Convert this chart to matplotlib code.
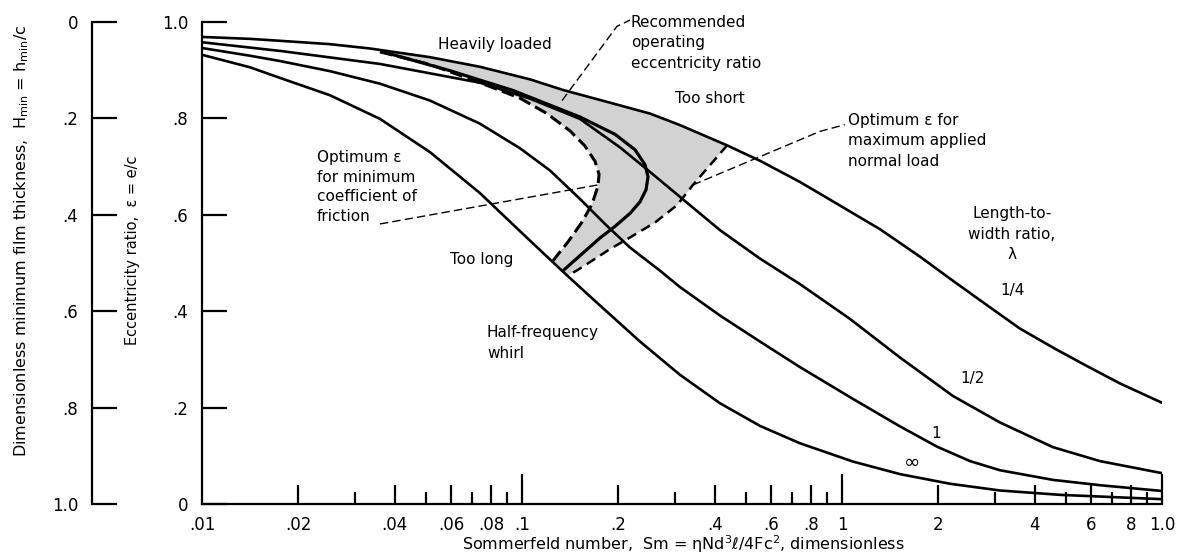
import numpy as np
import matplotlib
matplotlib.use('Agg')
import matplotlib.pyplot as plt

plt.rcParams['font.family'] = ['DejaVu Sans']
plt.rcParams['mathtext.fontset'] = 'dejavusans'

# ---- data (Sommerfeld number S, eccentricity ratio eps) ----
S_quarter = [0.01, 0.01413, 0.01753, 0.02512, 0.0335, 0.05158, 0.07396, 0.1059, 0.1343, 0.1923,
             0.2512, 0.3119, 0.4375, 0.5546, 0.7396, 0.9638, 1.315, 1.754, 2.223, 2.901,
             3.597, 4.634, 5.834, 7.396, 10]
e_quarter = [0.969, 0.965, 0.961, 0.954, 0.945, 0.927, 0.907, 0.881, 0.859, 0.831,
             0.810, 0.786, 0.744, 0.712, 0.668, 0.623, 0.570, 0.513, 0.463, 0.408,
             0.364, 0.322, 0.286, 0.250, 0.210]

S_half = [0.01, 0.01754, 0.03597, 0.07396, 0.1059, 0.1517, 0.2023, 0.246, 0.3119, 0.4159,
          0.5546, 0.7396, 1.059, 1.517, 2.223, 3.119, 4.56, 6.397, 10]
e_half = [0.958, 0.940, 0.913, 0.874, 0.841, 0.799, 0.740, 0.694, 0.637, 0.568,
          0.509, 0.456, 0.384, 0.304, 0.224, 0.169, 0.118, 0.089, 0.064]

S_one = [0.01, 0.01413, 0.01753, 0.02512, 0.03599, 0.05158, 0.07391, 0.09857, 0.1223, 0.1517,
         0.1817, 0.2176, 0.27, 0.3117, 0.4157, 0.5543, 0.7391, 1.0823, 1.5177, 1.9815,
         2.5119, 3.1174, 4.5647, 6.4027, 10]
e_one = [0.946, 0.930, 0.919, 0.898, 0.872, 0.837, 0.789, 0.738, 0.692, 0.633,
         0.581, 0.532, 0.484, 0.450, 0.391, 0.337, 0.284, 0.218, 0.161, 0.119,
         0.089, 0.070, 0.050, 0.039, 0.027]

S_inf = [0.01, 0.01413, 0.01753, 0.02512, 0.03599, 0.05158, 0.07391, 0.09857, 0.1343, 0.1667,
         0.2338, 0.3117, 0.4157, 0.5543, 0.7391, 1.0823, 1.5177, 2.1757, 3.1174, 4.8, 10]
e_inf = [0.932, 0.906, 0.884, 0.848, 0.799, 0.730, 0.645, 0.566, 0.482, 0.425,
         0.337, 0.268, 0.209, 0.162, 0.126, 0.088, 0.062, 0.042, 0.028, 0.019, 0.010]

# optimum eps for minimum coefficient of friction
S_minfric = [0.03599, 0.05158, 0.07391, 0.09857, 0.1197, 0.1413, 0.1572, 0.1691, 0.1741, 0.1728,
             0.1655, 0.154, 0.1393, 0.1251]
e_minfric = [0.938, 0.912, 0.874, 0.842, 0.810, 0.774, 0.743, 0.711, 0.684, 0.660,
             0.622, 0.585, 0.544, 0.505]

# recommended operating eccentricity ratio
S_recom = [0.03868, 0.05957, 0.09373, 0.1517, 0.1953, 0.2255, 0.2423, 0.2476, 0.2441, 0.2338,
           0.2176, 0.1953, 0.1753, 0.154, 0.1343]
e_recom = [0.934, 0.899, 0.858, 0.803, 0.767, 0.735, 0.704, 0.679, 0.652, 0.627,
           0.603, 0.576, 0.552, 0.519, 0.484]

# optimum eps for maximum applied normal load
S_maxload = [0.4375, 0.3868, 0.3421, 0.3052, 0.2604, 0.2176, 0.1884, 0.1632, 0.1496, 0.1383]
e_maxload = [0.744, 0.703, 0.662, 0.620, 0.584, 0.553, 0.529, 0.502, 0.486, 0.473]

xtick_vals = [0.01, 0.02, 0.04, 0.06, 0.08, 0.1, 0.2, 0.4, 0.6, 0.8, 1, 2, 4, 6, 8, 10]
xtick_labels = ['.01', '.02', '.04', '.06', '.08', '.1', '.2', '.4', '.6', '.8', '1',
                '2', '4', '6', '8', '1.0']
decade_ticks = [0.1, 1, 10]
even_ticks = [0.02, 0.04, 0.06, 0.08, 0.2, 0.4, 0.6, 0.8, 2, 4, 6, 8]
odd_ticks = [0.03, 0.05, 0.07, 0.09, 0.3, 0.5, 0.7, 0.9, 3, 5, 7, 9]

ytick_vals = [0, 0.2, 0.4, 0.6, 0.8, 1.0]
ytick_labels = ['0', '.2', '.4', '.6', '.8', '1.0']

W, H = 1180, 559
fig = plt.figure(figsize=(W / 100, H / 100), dpi=100)
ax = fig.add_axes([202 / W, 55 / H, 960 / W, 482 / H])
ax.set_xscale('log')
ax.set_xlim(0.01, 10)
ax.set_ylim(0, 1)
for s in ['top', 'right']:
    ax.spines[s].set_visible(False)
for s in ['left', 'bottom']:
    ax.spines[s].set_linewidth(1.6)
    ax.spines[s].set_capstyle('projecting')

ax.xaxis.set_minor_locator(matplotlib.ticker.NullLocator())
ax.set_xticks(xtick_vals, xtick_labels)
ax.tick_params(axis='x', length=0, pad=9, labelsize=12)
ax.set_yticks(ytick_vals, ytick_labels)
ax.tick_params(axis='y', direction='in', length=18, width=1.6, pad=10, labelsize=12)

xt = ax.get_xaxis_transform()
ax.vlines(decade_ticks, 0, 0.062, transform=xt, color='k', lw=1.6, clip_on=False)
ax.vlines(even_ticks, 0, 0.040, transform=xt, color='k', lw=1.6, clip_on=False)
ax.vlines(odd_ticks, 0, 0.024, transform=xt, color='k', lw=1.6, clip_on=False)

# secondary axis: dimensionless minimum film thickness H = 1 - eps
sec = ax.secondary_yaxis(-0.1146, functions=(lambda e: 1 - e, lambda h: 1 - h))
sec.set_yticks(ytick_vals, ytick_labels)
sec.tick_params(axis='y', direction='in', length=18, width=1.6, pad=10, labelsize=12)
sec.spines['left'].set_linewidth(1.6)

# shaded recommended region
q_seg = [(s, e) for s, e in zip(S_quarter, e_quarter) if S_minfric[0] < s < S_maxload[0]]
poly_S = list(S_minfric) + list(S_maxload[::-1]) + [p[0] for p in q_seg[::-1]]
poly_e = list(e_minfric) + list(e_maxload[::-1]) + [p[1] for p in q_seg[::-1]]
ax.fill(poly_S, poly_e, color='#d2d2d2', lw=0, zorder=1)

for S, e in [(S_quarter, e_quarter), (S_half, e_half), (S_one, e_one), (S_inf, e_inf)]:
    ax.plot(S, e, color='k', lw=1.9, zorder=3, solid_joinstyle='round')

ax.plot(S_minfric, e_minfric, color='k', lw=2.2, ls=(0, (4.2, 1.8)), zorder=4)
ax.plot(S_recom, e_recom, color='k', lw=2.3, zorder=4, solid_joinstyle='round')
ax.plot(S_maxload, e_maxload, color='k', lw=1.8, ls=(0, (4, 2.4)), zorder=4)

# leader lines
lead = dict(color='k', lw=1.0, ls=(0, (6, 3)), zorder=5, clip_on=False)
ax.plot([0.1334, 0.198, 0.2175], [0.837, 0.991, 1.004], **lead)
ax.plot([0.342, 0.853, 1.02], [0.662, 0.773, 0.787], **lead)
ax.plot([0.036, 0.1728], [0.581, 0.662], **lead)


def ftext(x, y, s, **kw):
    fig.text(x / W, 1 - y / H, s, **kw)


fs = 11
ftext(495, 44, 'Heavily loaded', ha='center', va='center', fontsize=fs)
ftext(631, 43, 'Recommended\noperating\neccentricity ratio', ha='left', va='center',
      fontsize=fs, linespacing=1.45)
ftext(710, 99, 'Too short', ha='center', va='center', fontsize=fs)
ftext(317, 187, 'Optimum ε\nfor minimum\ncoefficient of\nfriction', ha='left', va='center',
      fontsize=fs, linespacing=1.4)
ftext(482, 260, 'Too long', ha='center', va='center', fontsize=fs)
ftext(487, 343, 'Half-frequency\nwhirl', ha='left', va='center', fontsize=fs, linespacing=1.45)
ftext(848, 141, 'Optimum ε for\nmaximum applied\nnormal load', ha='left', va='center',
      fontsize=fs, linespacing=1.45)
ftext(1012, 234, 'Length-to-\nwidth ratio,\nλ', ha='center', va='center', fontsize=fs,
      linespacing=1.45, multialignment='center')
ftext(1012, 291, '1/4', ha='center', va='center', fontsize=fs)
ftext(973, 379, '1/2', ha='center', va='center', fontsize=fs)
ftext(936, 433, '1', ha='center', va='center', fontsize=fs)
ftext(912, 462, '∞', ha='center', va='center', fontsize=14)

ftext(683, 544, r'Sommerfeld number,  Sm = ηNd$^{3}$ℓ/4Fc$^{2}$, dimensionless',
      ha='center', va='center', fontsize=11.5)
ftext(132, 250, 'Eccentricity ratio,  ε = e/c', ha='center', va='center', rotation=90,
      fontsize=10.5)
ftext(22, 241, r'Dimensionless minimum film thickness,  H$_{\mathrm{min}}$ = h$_{\mathrm{min}}$/c',
      ha='center', va='center', rotation=90, fontsize=11.5)

fig.savefig('out.png', dpi=100)
